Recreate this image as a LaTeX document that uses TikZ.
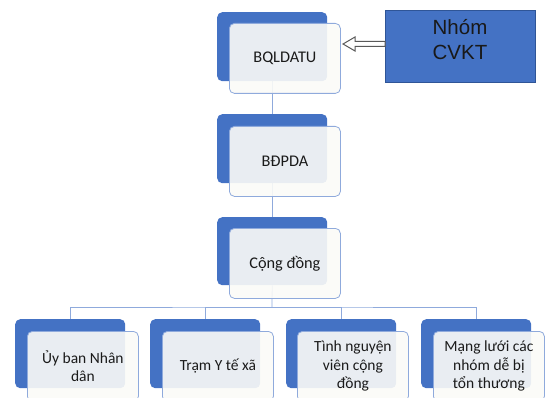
\documentclass[tikz,border=0pt]{standalone}
\usepackage{fontspec}
\setmainfont{Carlito}
\newfontfamily\arialf{Liberation Sans}
\usetikzlibrary{arrows.meta,backgrounds}
\definecolor{sablue}{HTML}{4472C4}
\definecolor{saedge}{HTML}{8FAADC}
\definecolor{cvedge}{HTML}{2F5597}
\definecolor{txt}{HTML}{1A1A1A}
\definecolor{frontfill}{RGB}{251,251,247}
\tikzset{
 backbox/.style={draw=none, fill=sablue, rounded corners=5pt, inner sep=0pt, anchor=north west, minimum width=110pt, minimum height=69pt},
 frontbox/.style={draw=saedge, line width=0.8pt, fill=frontfill, fill opacity=0.9, text opacity=1, rounded corners=5pt, inner sep=2pt, anchor=north west, minimum width=111pt, minimum height=70pt, align=center, text=txt, font=\fontsize{15.5}{18.5}\selectfont},
 topfont/.style={font=\fontsize{16.3}{19}\selectfont},
 conn/.style={draw=saedge, line width=0.8pt},
 cvbox/.style={draw=cvedge, line width=1pt, fill=sablue, anchor=north west, minimum width=150pt, minimum height=72pt, inner sep=0pt},
 cvtext/.style={font=\arialf\fontsize{20.5}{25}\selectfont, text=black!90, align=center},
 hollowarrow/.style={draw=black!65, fill=white, line width=1pt, line join=miter},
}
\begin{document}
\begin{tikzpicture}[x=1pt,y=-1pt]
\useasboundingbox (0,0) rectangle (551,398);
\clip (0,0) rectangle (551,398);
\node[backbox] (b1) at (217,12) {};
\node[backbox] (b2) at (217,114) {};
\node[backbox, minimum height=68pt] (b3) at (217,217) {};
\node[backbox] (c1b) at (15,319) {};
\node[backbox] (c2b) at (150,319) {};
\node[backbox] (c3b) at (286,319) {};
\node[backbox] (c4b) at (421,319) {};
\begin{pgfonlayer}{background}
\coordinate (bar) at (272,307);
\draw[conn] (b1.south) -- (b2.north);
\draw[conn] (b2.south) -- (b3.north);
\draw[conn] (b3.south) -- (bar);
\draw[conn] (c1b.north) |- (bar) -| (c4b.north);
\draw[conn] (c2b.north) |- (bar);
\draw[conn] (c3b.north) |- (bar);
\end{pgfonlayer}
\node[frontbox, topfont] (f1) at (229,23) {BQLDATU};
\node[frontbox, topfont] (f2) at (229,126) {BĐPDA};
\node[frontbox, topfont] (f3) at (229,228) {Cộng đồng};
\node[frontbox] (c1) at (27,331) {Ủy ban Nhân\\dân};
\node[frontbox] (c2) at (162,331) {Trạm Y tế xã};
\node[frontbox] (c3) at (297,331) {Tình nguyện\\viên cộng\\đồng};
\node[frontbox] (c4) at (433,331) {Mạng lưới các\\nhóm dễ bị\\tổn thương};
\node[cvbox] (cvkt) at (385,10) {};
\node[cvtext] (cvkttxt) at (460,40) {Nhóm\\CVKT};
\coordinate (atip) at (343,44);
\coordinate (abase) at (cvkt.west |- atip);
\draw[hollowarrow] (abase) ++(0,-2.5) -- ++(-30,0) -- ++(0,-4.5) -- (atip) -- ++(12,7) -- ++(0,-4.5) -- ++(30,0) -- cycle;
\end{tikzpicture}
\end{document}
